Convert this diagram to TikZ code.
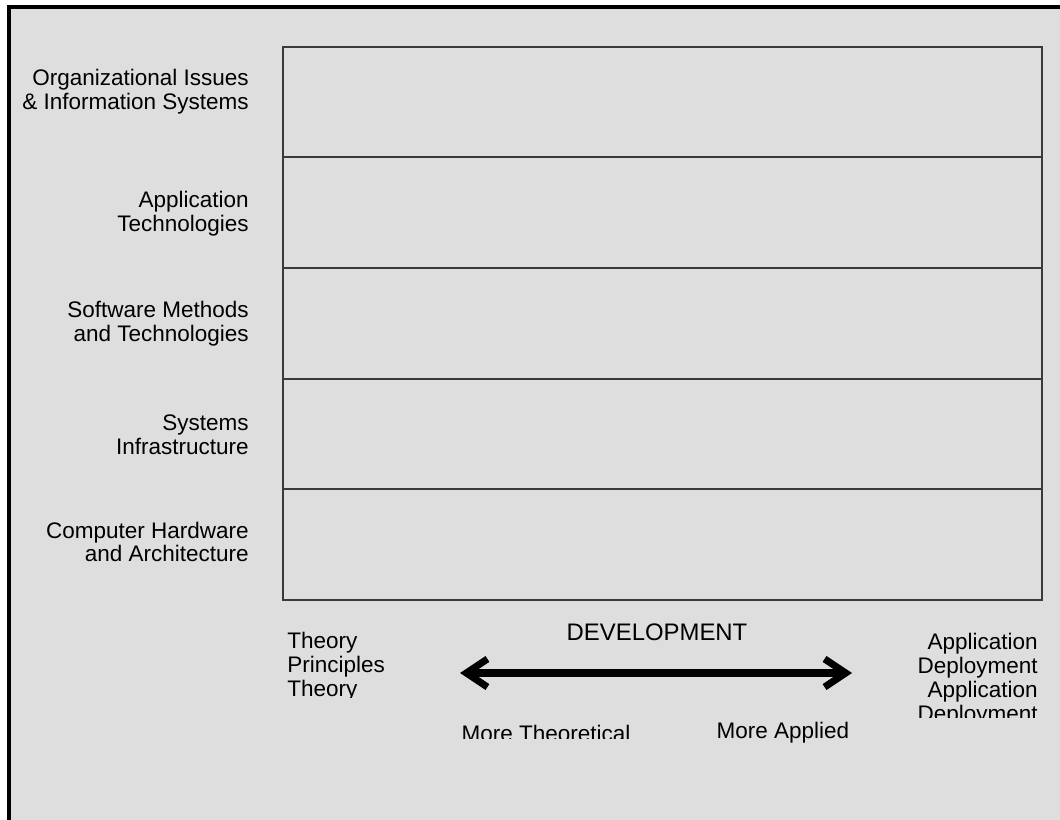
\documentclass[tikz,border=0pt]{standalone}
\usepackage{fontspec}
\setmainfont{Liberation Sans}
\usetikzlibrary{arrows.meta, positioning}
\definecolor{paper}{HTML}{DEDEDE}
\definecolor{gridline}{HTML}{3A3A3A}
\tikzset{
    rowlabel/.style={
        anchor=east, align=right, inner sep=0pt,
        font=\fontsize{16pt}{17pt}\selectfont
    },
    axislabel/.style={
        inner sep=0pt, font=\fontsize{16pt}{17pt}\selectfont
    },
    layerbox/.style={draw=gridline, line width=1.4pt},
    frame/.style={draw=black, line width=2.8pt},
    devarrow/.style={
        draw=black, line width=5pt, line cap=round,
        {Straight Barb[length=15pt,width=20pt]}-{Straight Barb[length=15pt,width=20pt]}
    }
}

\begin{document}
\begin{tikzpicture}[x=0.025cm, y=-0.025cm]
\useasboundingbox (0,0) rectangle (1060,820);

% Page background and frame
\fill[paper] (9,7) rectangle (1060,820);
\draw[frame] (9,820) -- (9,7) -- (1060,7);

% Layer boxes
\draw[layerbox] (283,47) rectangle (1042,600);
\foreach \y in {157,268,379,489}
    \draw[layerbox] (283,\y) -- (1042,\y);

% Layer labels
\node[rowlabel] (orgis) at (249,92) {Organizational Issues\\\& Information Systems};
\node[rowlabel] (apptech) at (249,214) {Application\\Technologies};
\node[rowlabel] (swmeth) at (249,324) {Software Methods\\and Technologies};
\node[rowlabel] (sysinf) at (249,435) {Systems\\Infrastructure};
\node[rowlabel] (hwarch) at (249,542) {Computer Hardware\\and Architecture};

% Axis ends
\begin{scope}
\clip (270,615) rectangle (450,697);
\node[axislabel, align=left, anchor=north west] (theory) at (287,632) {Theory\\Principles\\Theory};
\end{scope}
\begin{scope}
\clip (880,615) rectangle (1050,717);
\node[axislabel, align=right, anchor=north east] (deploy) at (1038,633) {Application\\Deployment\\Application\\Deployment};
\end{scope}

% Development axis
\node[axislabel, font=\fontsize{17pt}{18pt}\selectfont] (dev) at (657,632) {DEVELOPMENT};
\coordinate (theoend) at (460,673);
\coordinate (applend) at (852,673);
\draw[devarrow] (theoend) -- (applend);

\begin{scope}
\clip (440,715) rectangle (650,738);
\node[axislabel] (moretheo) at (546,733) {More Theoretical};
\end{scope}
\node[axislabel] (moreappl) at (783,733) {More Applied};

\end{tikzpicture}
\end{document}
